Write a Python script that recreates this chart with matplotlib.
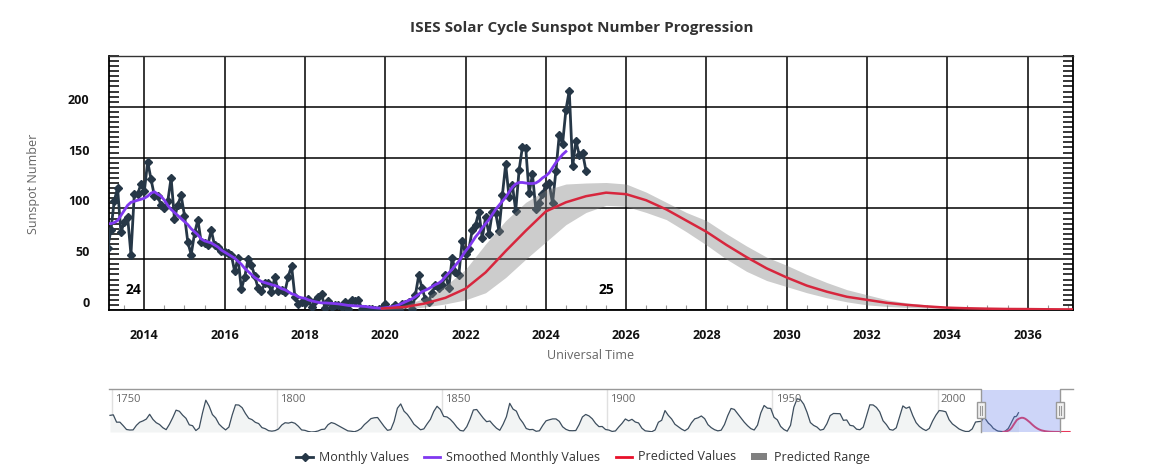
import numpy as np
import matplotlib
matplotlib.use('Agg')
import matplotlib.pyplot as plt
from matplotlib.lines import Line2D
from matplotlib.patches import Patch, Rectangle
from matplotlib.ticker import MultipleLocator

plt.rcParams['font.family'] = ['Open Sans', 'DejaVu Sans']

# monthly sunspot numbers, Feb 2013 .. Jan 2025
monthly_start = 2013 + 1 / 12
monthly_values = [
    60.9, 78.3, 107.3, 120.2, 76.7, 86.2, 91.8, 54.5, 114.4, 113.9, 124.2,
    117.0, 146.1, 128.7, 112.5, 112.5, 102.9, 100.2, 106.9, 130.0, 90.0, 103.6, 112.9,
    93.0, 66.7, 54.5, 75.3, 88.8, 66.5, 65.8, 64.4, 78.6, 63.6, 62.2, 58.0,
    57.0, 56.4, 54.1, 37.9, 51.5, 20.5, 32.4, 50.2, 44.6, 33.4, 21.4, 18.5,
    26.1, 26.4, 17.7, 32.3, 18.9, 19.2, 17.8, 32.6, 43.6, 13.2, 5.7, 8.2,
    6.8, 10.7, 2.5, 8.9, 13.1, 15.6, 1.6, 8.7, 3.3, 4.9, 4.9, 3.1,
    7.7, 0.8, 9.4, 9.1, 9.9, 1.2, 0.9, 0.5, 1.1, 0.4, 0.5, 1.5,
    6.2, 0.2, 1.5, 5.2, 0.2, 5.8, 6.1, 7.5, 0.6, 14.4, 34.0, 21.8,
    10.4, 8.2, 17.2, 24.5, 21.2, 25.0, 34.3, 22.0, 51.3, 37.4, 34.8, 67.5,
    55.3, 59.9, 78.5, 84.1, 96.5, 70.5, 91.4, 74.6, 96.0, 95.5, 77.6, 112.8,
    143.6, 111.3, 123.3, 97.6, 137.4, 160.5, 159.1, 114.8, 133.6, 99.4, 105.4, 114.2,
    123.0, 124.7, 104.9, 136.5, 172.0, 163.4, 196.8, 216.0, 141.4, 166.3, 152.5, 154.5,
    137.0,
]

# 13-month smoothed values, Feb 2013 .. Jul 2024
smoothed_values = [
    85, 85, 86, 88, 93, 98, 103, 106, 107, 108, 109,
    110, 112, 115, 116.4, 114, 112, 108, 103, 99, 96, 93, 90,
    87, 84, 80, 77, 74, 70, 68, 67, 66, 64, 62, 59,
    57, 55, 53, 51, 48, 45, 41, 38, 35, 32, 30, 28,
    27, 26, 25, 24, 23, 21, 20, 18, 16, 15, 13, 12,
    11.5, 10, 9, 8.2, 7.5, 7, 7, 6.8, 6.6, 6.3, 6, 5.5,
    5, 4.5, 4.3, 4, 4, 3.8, 3.5, 3, 2.5, 2.2, 1.9, 1.8,
    2.2, 2.6, 3.2, 4, 5, 6.5, 8, 9.5, 11, 13, 15.5, 18,
    19.5, 21, 23, 25, 26.5, 29, 33, 36.5, 40, 44, 48, 53,
    58, 62, 67, 72, 76, 81, 85, 89, 94, 99, 103, 107,
    111, 116, 121, 124, 125.5, 125.5, 125, 124.5, 124.5, 125, 127, 130,
    132, 135, 140, 145, 149, 153, 156,
]

# predicted values (half-year steps)
pred_years = [2019.92, 2020.5, 2021.0, 2021.5, 2022.0, 2022.5, 2023.0, 2023.5, 2024.0,
              2024.5, 2025.0, 2025.5, 2026.0, 2026.5, 2027.0, 2027.5, 2028.0, 2028.5,
              2029.0, 2029.5, 2030.0, 2030.5, 2031.0, 2031.5, 2032.0, 2032.5, 2033.0,
              2033.5, 2034.0, 2034.5, 2035.0, 2035.5, 2036.0, 2036.5, 2037.0, 2038.0,
              2039.0, 2040.0]
pred_values = [1.5, 3, 6.5, 12, 21, 37, 58, 78, 97,
               106, 112, 115.5, 114, 108, 99, 88, 77, 64,
               52, 41, 32, 24, 18, 13, 10, 7, 5,
               3.5, 2.3, 1.7, 1.3, 1.0, 0.9, 0.7, 0.6, 0.5,
               0.5, 0.5]

range_years = [2019.92, 2020.5, 2021.0, 2021.5, 2022.0, 2022.5, 2023.0, 2023.5, 2024.0,
               2024.5, 2025.0, 2025.5, 2026.0, 2026.5, 2027.0, 2027.5, 2028.0, 2028.5,
               2029.0, 2029.5, 2030.0, 2030.5, 2031.0, 2031.5, 2032.0, 2032.5, 2033.0,
               2033.5, 2034.0, 2034.5, 2035.0]
range_low = [0.5, 1, 3, 6, 10, 17, 32, 50, 67,
             84, 96, 103, 102, 96, 89, 77, 64, 50,
             38, 29, 23, 17, 12, 8, 5, 3.5, 2.5,
             1.8, 1.3, 1.0, 0.8]
range_high = [2, 5, 12, 24, 40, 65, 88, 106, 118,
              124, 125, 125.5, 124, 116, 106, 96, 88, 75,
              63, 52, 44, 35, 27, 20, 15, 10, 7,
              5, 3.3, 2.3, 1.6]

# yearly mean sunspot numbers for the navigator, 1749 .. 2012
nav_start = 1749
nav_yearly = [
    134.7, 139.0, 79.5, 79.7, 51.2, 20.3, 16.0, 17.0, 54.0, 79.3, 90.0,
    104.8, 143.2, 102.0, 75.2, 60.7, 34.8, 19.0, 63.0, 116.3, 176.8,
    168.0, 136.0, 110.8, 58.0, 51.0, 11.7, 33.0, 154.2, 257.3, 209.8,
    141.3, 113.5, 64.2, 38.0, 17.0, 40.2, 138.2, 220.0, 218.2, 196.8,
    149.8, 111.0, 100.0, 78.2, 68.3, 35.5, 26.7, 10.7, 6.8, 11.3,
    24.2, 56.7, 75.0, 71.8, 79.2, 70.3, 46.8, 16.8, 13.5, 4.2,
    0.0, 2.3, 8.3, 20.3, 23.2, 59.0, 76.3, 68.3, 52.9, 38.5,
    24.2, 9.2, 6.3, 2.2, 11.4, 28.2, 59.9, 83.0, 108.5, 115.2,
    117.4, 80.8, 44.3, 13.4, 19.5, 85.8, 192.7, 227.3, 168.7, 143.0,
    105.5, 63.3, 40.3, 18.1, 25.1, 65.8, 102.7, 166.3, 208.3, 182.5,
    126.3, 122.0, 102.7, 74.1, 39.0, 12.7, 8.2, 43.4, 104.4, 178.3,
    182.2, 146.6, 112.1, 83.5, 89.2, 57.8, 30.7, 13.9, 62.8, 123.6,
    232.0, 185.3, 169.2, 110.1, 74.5, 28.3, 18.9, 20.7, 5.7, 10.0,
    53.7, 90.5, 99.0, 106.1, 105.8, 86.3, 42.4, 21.8, 11.2, 10.4,
    11.8, 59.5, 121.7, 142.0, 130.0, 106.6, 69.4, 43.8, 44.4, 20.2,
    15.7, 4.6, 8.5, 40.8, 70.1, 105.5, 90.1, 102.8, 80.9, 73.2,
    30.9, 9.5, 6.0, 2.4, 16.1, 79.0, 95.0, 173.6, 134.6, 105.7,
    62.7, 43.5, 23.7, 9.7, 27.9, 74.0, 106.5, 114.7, 129.7, 108.2,
    59.4, 35.1, 18.6, 9.2, 14.6, 60.2, 132.8, 190.6, 182.6, 148.0,
    113.0, 79.2, 50.8, 27.1, 16.1, 55.3, 154.3, 214.7, 193.0, 190.7,
    118.9, 98.3, 45.0, 20.1, 6.6, 54.2, 200.7, 269.3, 261.7, 225.1,
    159.0, 76.4, 53.4, 39.9, 15.0, 22.0, 66.8, 132.9, 150.0, 149.4,
    148.0, 94.4, 97.6, 54.1, 49.2, 22.5, 18.4, 39.3, 131.0, 220.1,
    218.9, 198.9, 162.4, 91.0, 60.5, 20.6, 14.8, 33.9, 123.0, 211.1,
    191.8, 203.3, 133.0, 76.1, 44.9, 25.1, 11.6, 28.9, 88.3, 136.3,
    173.9, 170.4, 163.6, 99.3, 65.3, 45.8, 24.7, 12.6, 4.2, 4.8,
    24.9, 80.8, 84.5,
]

cycle_labels = [('24', 2013.72), ('25', 2025.5)]
x_ticks = list(range(2014, 2037, 2))
y_ticks = [0, 50, 100, 150, 200]
nav_ticks = [1750, 1800, 1850, 1900, 1950, 2000]

x_min, x_max = 2013.12, 2037.13

C_MONTHLY = '#263747'
C_SMOOTH = '#8038f0'
C_PRED = '#d7263d'
C_RANGE = '#808080'

fig = plt.figure(figsize=(11.67, 4.68), dpi=100)

# ---- main chart ----
ax = fig.add_axes([109 / 1167, 1 - 310 / 468, 964 / 1167, 254 / 468])

t_month = monthly_start + np.arange(len(monthly_values)) / 12
t_smooth = monthly_start + np.arange(len(smoothed_values)) / 12

ax.plot(t_month, monthly_values, color=C_MONTHLY, lw=2, marker='D', ms=4.5,
        mfc=C_MONTHLY, mec=C_MONTHLY, zorder=3)
ax.fill_between(range_years, range_low, range_high, color=C_RANGE, alpha=0.4,
                lw=0, zorder=4)
ax.plot(t_smooth, smoothed_values, color=C_SMOOTH, lw=2, zorder=5)
ax.plot(pred_years, pred_values, color=C_PRED, lw=1.8, zorder=6)

for txt, xx in cycle_labels:
    ax.text(xx, 20, txt, ha='center', va='center', fontsize=10, fontweight='bold',
            color='black', zorder=7)

ax.set_xlim(x_min, x_max)
ax.set_ylim(0, 250)
ax.set_axisbelow(True)

ax.set_xticks(x_ticks)
ax.set_xticklabels([str(x) for x in x_ticks], fontsize=9, fontweight='bold', color='#111')
ax.xaxis.set_minor_locator(MultipleLocator(0.5))
ax.tick_params(axis='x', which='major', length=0, pad=14)
ax.tick_params(axis='x', which='minor', direction='in', length=3.5, width=0.8,
               color='#999999')

ax.set_yticks(y_ticks)
ax.set_yticklabels([str(y) for y in y_ticks], fontsize=9, fontweight='bold', color='#111')
for lab in ax.get_yticklabels():
    lab.set_va('bottom')
ax.yaxis.set_minor_locator(MultipleLocator(5))
ax.tick_params(axis='y', which='major', length=0, pad=14)
ax.tick_params(axis='y', which='minor', direction='in', length=7, width=1.1,
               color='black', left=True, right=True)

ax.grid(True, which='major', color='black', lw=1.1)
for side in ['left', 'bottom', 'right']:
    ax.spines[side].set_color('black')
    ax.spines[side].set_linewidth(1.3)
ax.spines['top'].set_color('#333333')
ax.spines['top'].set_linewidth(1.0)

ax.set_xlabel('Universal Time', fontsize=9, color='#666666', labelpad=5)
fig.text(33 / 1167, 1 - 184 / 468, 'Sunspot Number', rotation=90, fontsize=9,
         color='#666666', ha='center', va='center')

fig.text(582 / 1167, 1 - 28 / 468, 'ISES Solar Cycle Sunspot Number Progression',
         fontsize=11, fontweight='bold', color='#333333', ha='center', va='center')

# ---- navigator ----
nav = fig.add_axes([109 / 1167, 1 - 432 / 468, 964 / 1167, 42 / 468])
t_nav = np.concatenate([nav_start + np.arange(len(nav_yearly)) + 0.5, t_smooth])
v_nav = np.concatenate([nav_yearly, smoothed_values])
nav.fill_between(t_nav, 0, v_nav, color='#f2f4f4', lw=0, zorder=1)
nav.plot(t_nav, v_nav, color='#3d4e5e', lw=0.9, zorder=2)
nav.plot(pred_years, pred_values, color='#e8375a', lw=1.4, zorder=2)
nav.set_xlim(1749.2, 2041)
nav.set_ylim(0, 340)
nav.set_xticks([])
nav.set_yticks([])
for s in nav.spines.values():
    s.set_visible(False)
for yr in nav_ticks:
    nav.axvline(yr, color='#e0e0e0', lw=1, zorder=0)
    nav.text(yr + 1.0, 265, str(yr), fontsize=8, color='#666666', ha='left', va='center')

# selection mask and outline
nav.add_patch(Rectangle((x_min, 0), x_max - x_min, 345, facecolor='#5b77e8',
                        alpha=0.3, lw=0, zorder=3))
nav.plot([1749.2, x_min, x_min], [345, 345, 0], color='#999999', lw=1, zorder=4,
         clip_on=False)
nav.plot([x_max, x_max, 2041], [0, 345, 345], color='#999999', lw=1, zorder=4,
         clip_on=False)
for hx in [x_min, x_max]:
    nav.add_patch(Rectangle((hx - 1.2, 110), 2.4, 130, facecolor='#f2f2f2',
                            edgecolor='#999999', lw=1, zorder=5))
    for dx in (-0.35, 0.35):
        nav.plot([hx + dx, hx + dx], [140, 210], color='#999999', lw=0.8, zorder=6)

# ---- legend ----
handles = [
    Line2D([], [], color=C_MONTHLY, lw=2, marker='D', ms=4.5),
    Line2D([], [], color=C_SMOOTH, lw=2),
    Line2D([], [], color='#e8102a', lw=2),
    Patch(facecolor=C_RANGE, edgecolor='none'),
]
labels = ['Monthly Values', 'Smoothed Monthly Values', 'Predicted Values', 'Predicted Range']
fig.legend(handles, labels, loc='center', bbox_to_anchor=(583 / 1167, 1 - 457 / 468),
           ncol=4, frameon=False, fontsize=9, handlelength=1.3, handleheight=0.5,
           columnspacing=1.2, handletextpad=0.5, labelcolor='#333333')

fig.savefig('out.png', dpi=100)
